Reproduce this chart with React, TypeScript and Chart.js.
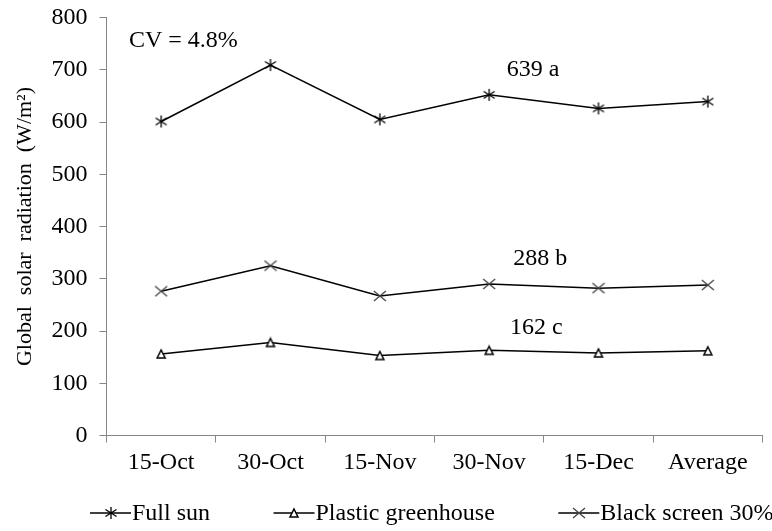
import React, { useEffect, useRef } from "react";
import { Chart, registerables } from "chart.js";

Chart.register(...registerables);

const categories = ["15-Oct", "30-Oct", "15-Nov", "30-Nov", "15-Dec", "Average"];
const fullSun = [601, 709, 605, 652, 626, 639];
const plasticGreenhouse = [156, 178, 153, 163, 158, 162];
const blackScreen = [276, 325, 267, 290, 282, 288];
const seriesLabels = ["Full sun", "Plastic greenhouse", "Black screen 30%"];
const yTicks = [0, 100, 200, 300, 400, 500, 600, 700, 800];

const annoTexts = ["CV = 4.8%", "639 a", "288 b", "162 c"];
const annoX = [-0.295, 3.16, 3.22, 3.19];
const annoY = [744, 688, 327, 195];

const FONT = "'Liberation Serif', 'Times New Roman', serif";

function makeAsterisk(): HTMLCanvasElement {
  const c = document.createElement("canvas");
  c.width = 14;
  c.height = 14;
  const g = c.getContext("2d")!;
  g.strokeStyle = "#000";
  g.lineWidth = 1.3;
  g.beginPath();
  g.moveTo(7, 1);
  g.lineTo(7, 13);
  g.moveTo(1.5, 3.5);
  g.lineTo(12.5, 10.5);
  g.moveTo(1.5, 10.5);
  g.lineTo(12.5, 3.5);
  g.stroke();
  return c;
}

function makeTriangle(): HTMLCanvasElement {
  const c = document.createElement("canvas");
  c.width = 12;
  c.height = 12;
  const g = c.getContext("2d")!;
  g.beginPath();
  g.moveTo(6, 2);
  g.lineTo(10, 10);
  g.lineTo(2, 10);
  g.closePath();
  g.fillStyle = "#fff";
  g.fill();
  g.strokeStyle = "#000";
  g.lineWidth = 1.5;
  g.stroke();
  return c;
}

function makeCross(): HTMLCanvasElement {
  const c = document.createElement("canvas");
  c.width = 14;
  c.height = 12;
  const g = c.getContext("2d")!;
  g.strokeStyle = "#444";
  g.lineWidth = 1.3;
  g.beginPath();
  g.moveTo(1, 1);
  g.lineTo(13, 11);
  g.moveTo(1, 11);
  g.lineTo(13, 1);
  g.stroke();
  return c;
}

export default function App() {
  const ref = useRef<HTMLCanvasElement | null>(null);

  useEffect(() => {
    if (!ref.current) return;
    const markers = [makeAsterisk(), makeTriangle(), makeCross()];
    const values = [fullSun, plasticGreenhouse, blackScreen];

    const annotationPlugin = {
      id: "annos",
      afterDatasetsDraw(chart: any) {
        const { ctx, scales } = chart;
        ctx.save();
        ctx.font = `24px ${FONT}`;
        ctx.fillStyle = "#000";
        ctx.textAlign = "left";
        ctx.textBaseline = "alphabetic";
        annoTexts.forEach((t, i) => {
          ctx.fillText(t, scales.x.getPixelForValue(annoX[i]), scales.y.getPixelForValue(annoY[i]));
        });
        ctx.restore();
      },
    };

    const legendPlugin = {
      id: "customLegend",
      afterDraw(chart: any) {
        const { ctx } = chart;
        ctx.save();
        ctx.font = `24px ${FONT}`;
        ctx.fillStyle = "#000";
        ctx.textBaseline = "alphabetic";
        ctx.textAlign = "left";
        let x = 90;
        const lineY = 513;
        const lineLen = 41;
        chart.data.datasets.forEach((ds: any, i: number) => {
          ctx.strokeStyle = "#000";
          ctx.lineWidth = 1.5;
          ctx.beginPath();
          ctx.moveTo(x, lineY);
          ctx.lineTo(x + lineLen, lineY);
          ctx.stroke();
          const m = markers[i];
          ctx.drawImage(m, Math.round(x + lineLen / 2 - m.width / 2), Math.round(lineY - m.height / 2));
          const tx = x + lineLen + 1;
          ctx.fillText(ds.label, tx, 520);
          x = tx + ctx.measureText(ds.label).width + 63.5;
        });
        ctx.restore();
      },
    };

    const chart = new Chart(ref.current, {
      type: "line",
      data: {
        labels: categories,
        datasets: values.map((v, i) => ({
          label: seriesLabels[i],
          data: v,
          borderColor: "#000",
          borderWidth: 1.5,
          pointStyle: markers[i] as any,
          pointRadius: 6,
          fill: false,
          tension: 0,
        })),
      },
      options: {
        animation: false,
        responsive: false,
        devicePixelRatio: 1,
        layout: { padding: { left: 0, top: 17.5, right: 9.5, bottom: 0 } },
        plugins: {
          legend: { display: false },
          tooltip: { enabled: false },
        },
        scales: {
          x: {
            type: "category",
            offset: true,
            grid: {
              display: true,
              drawOnChartArea: false,
              drawTicks: true,
              tickLength: 7,
              color: "#868686",
              offset: true,
            },
            border: { display: true, color: "#868686", width: 1 },
            ticks: {
              color: "#000",
              font: { family: FONT, size: 24 },
              padding: 6,
              maxRotation: 0,
              autoSkip: false,
            },
            afterFit(scale: any) {
              scale.height = 95.5;
              scale.paddingLeft = 0;
              scale.paddingRight = 0;
            },
          },
          y: {
            min: 0,
            max: 800,
            afterBuildTicks(scale: any) {
              scale.ticks = yTicks.map((v) => ({ value: v }));
            },
            grid: {
              display: true,
              drawOnChartArea: false,
              drawTicks: true,
              tickLength: 7,
              color: "#868686",
            },
            border: { display: true, color: "#868686", width: 1 },
            ticks: {
              color: "#000",
              font: { family: FONT, size: 24 },
              padding: 12,
            },
            title: {
              display: true,
              text: "Global  solar  radiation  (W/m²)",
              color: "#000",
              font: { family: FONT, size: 22 },
              padding: { top: 12, bottom: 0 },
            },
            afterFit(scale: any) {
              scale.width = 106.5;
              scale.paddingTop = 0;
              scale.paddingBottom = 0;
            },
          },
        },
      },
      plugins: [annotationPlugin, legendPlugin],
    });
    return () => chart.destroy();
  }, []);

  return (
    <div style={{ position: "absolute", left: 0, top: 0, width: 772, height: 531, background: "#fff" }}>
      <canvas ref={ref} width={772} height={531} style={{ display: "block" }} />
    </div>
  );
}
